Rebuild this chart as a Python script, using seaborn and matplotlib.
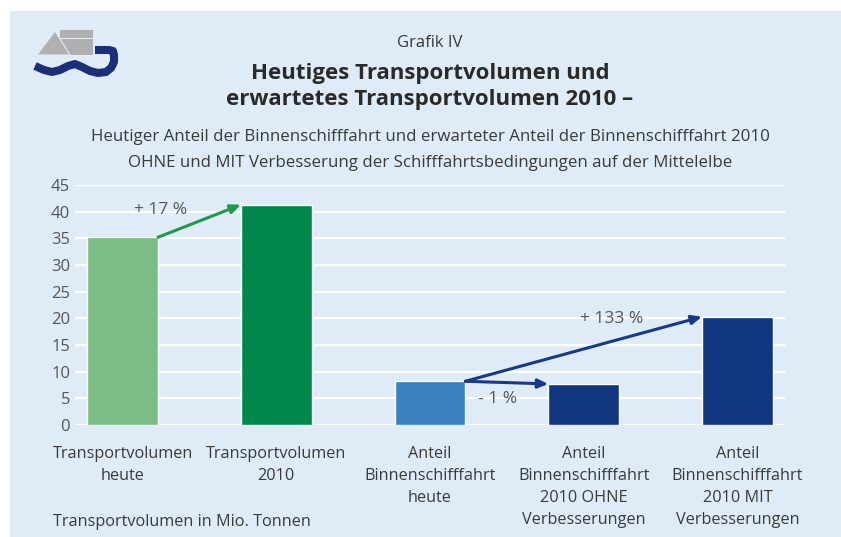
import numpy as np
import pandas as pd
import matplotlib
matplotlib.use("Agg")
import matplotlib.pyplot as plt
from matplotlib.patches import Rectangle, Polygon
from matplotlib.lines import Line2D
import seaborn as sns

# --- data ---
categories = [
    "Transportvolumen\nheute",
    "Transportvolumen\n2010",
    "Anteil\nBinnenschifffahrt\nheute",
    "Anteil\nBinnenschifffahrt\n2010 OHNE\nVerbesserungen",
    "Anteil\nBinnenschifffahrt\n2010 MIT\nVerbesserungen",
]
values = [35.2, 41.3, 8.2, 7.7, 20.3]
bar_colors = ["#7bbd84", "#00884a", "#3a80bf", "#10367f", "#10367f"]
y_ticks = [0, 5, 10, 15, 20, 25, 30, 35, 40, 45]
changes = [("+ 17 %", 0, 1), ("- 1 %", 2, 3), ("+ 133 %", 2, 4)]

W, H = 841, 537
BG = "#dfecf7"
TXT = "#3a3a3a"

sns.set_theme(style="white")
plt.rcParams["font.family"] = ["Open Sans", "DejaVu Sans"]

fig = plt.figure(figsize=(W / 100, H / 100), dpi=100)
fig.patch.set_facecolor("white")
fig.patches.append(Rectangle((10 / W, 0), 1 - 10 / W, 1 - 11 / H,
                             transform=fig.transFigure, facecolor=BG,
                             edgecolor="none", zorder=-10))


def px(x, y):
    return x / W, 1 - y / H


# --- logo ---
GREY = "#b0b0b0"
for y0, y1 in [(30, 38), (39, 46.5), (47.5, 55)]:
    fig.patches.append(Rectangle(px(60, y1), 33 / W, (y1 - y0) / H,
                                 transform=fig.transFigure, facecolor=GREY,
                                 edgecolor="none"))
fig.patches.append(Polygon([px(37, 55), px(55, 31), px(70, 55)], closed=True,
                           transform=fig.transFigure, facecolor=GREY,
                           edgecolor=BG, linewidth=0.8))
wave = [(35, 66), (44, 70), (52, 72), (60, 70), (68, 66), (75, 64), (82, 67),
        (90, 71), (98, 73), (106, 72), (111, 68), (114, 62), (114, 55), (113, 51),
        (109, 50), (95, 50)]
wx = [p[0] / W for p in wave]
wy = [1 - p[1] / H for p in wave]
fig.lines.append(Line2D(wx, wy, transform=fig.transFigure, color="#1b2f78",
                        linewidth=5.8, solid_capstyle="butt", solid_joinstyle="round"))

# --- titles ---
cx = 430 / W
fig.text(cx, 1 - 43 / H, "Grafik IV", ha="center", va="center", fontsize=12, color=TXT)
fig.text(cx, 1 - 73 / H, "Heutiges Transportvolumen und", ha="center", va="center",
         fontsize=16, fontweight="bold", color="#2a2a2a")
fig.text(cx, 1 - 100 / H, "erwartetes Transportvolumen 2010 –", ha="center", va="center",
         fontsize=16, fontweight="bold", color="#2a2a2a")
fig.text(cx, 1 - 137 / H,
         "Heutiger Anteil der Binnenschifffahrt und erwarteter Anteil der Binnenschifffahrt 2010",
         ha="center", va="center", fontsize=12.2, color=TXT)
fig.text(cx, 1 - 163 / H,
         "OHNE und MIT Verbesserung der Schifffahrtsbedingungen auf der Mittelelbe",
         ha="center", va="center", fontsize=12.2, color=TXT)

# --- bars ---
ax = fig.add_axes([75 / W, 1 - 425 / H, 710 / W, 240 / H])
ax.set_facecolor("none")
df = pd.DataFrame({"cat": categories, "val": values})
bw = 0.46
sns.barplot(data=df, x="cat", y="val", hue="cat", palette=bar_colors, legend=False,
            width=bw, saturation=1, ax=ax, zorder=3)

ax.set_ylim(0, 45)
ax.set_xlim(-0.31, 4.31)
ax.set_yticks(y_ticks)
ax.yaxis.grid(True, color="white", linewidth=1.6, zorder=0)
ax.set_axisbelow(True)
for s in ax.spines.values():
    s.set_visible(False)
ax.set_xlabel("")
ax.set_ylabel("")
ax.tick_params(axis="y", length=0, pad=3.5, labelsize=12, labelcolor="#555555")
ax.tick_params(axis="x", length=0, pad=15, labelsize=11.7, labelcolor=TXT)
for lab in ax.get_xticklabels():
    lab.set_linespacing(1.5)
    lab.set_va("top")

# --- change arrows ---
arrow_col = {0: "#1d9a4e", 2: "#17398a"}
label_pos = {"+ 17 %": (0.25, 40.3), "- 1 %": (2.44, 4.8), "+ 133 %": (3.18, 19.8)}
for txt, i, j in changes:
    col = arrow_col[i]
    ax.annotate("", xy=(j - bw / 2, values[j]), xytext=(i + bw / 2, values[i]),
                arrowprops=dict(arrowstyle="-|>,head_length=0.5,head_width=0.22",
                                color=col, lw=2.2, shrinkA=0, shrinkB=0),
                zorder=5, annotation_clip=False)
    lx, ly = label_pos[txt]
    ax.text(lx, ly, txt, ha="center", va="center", fontsize=12.5, color="#555555", zorder=6)

fig.text(53 / W, 1 - 522 / H, "Transportvolumen in Mio. Tonnen", ha="left", va="center",
         fontsize=11.7, color=TXT)

fig.savefig("out.png", dpi=100)
